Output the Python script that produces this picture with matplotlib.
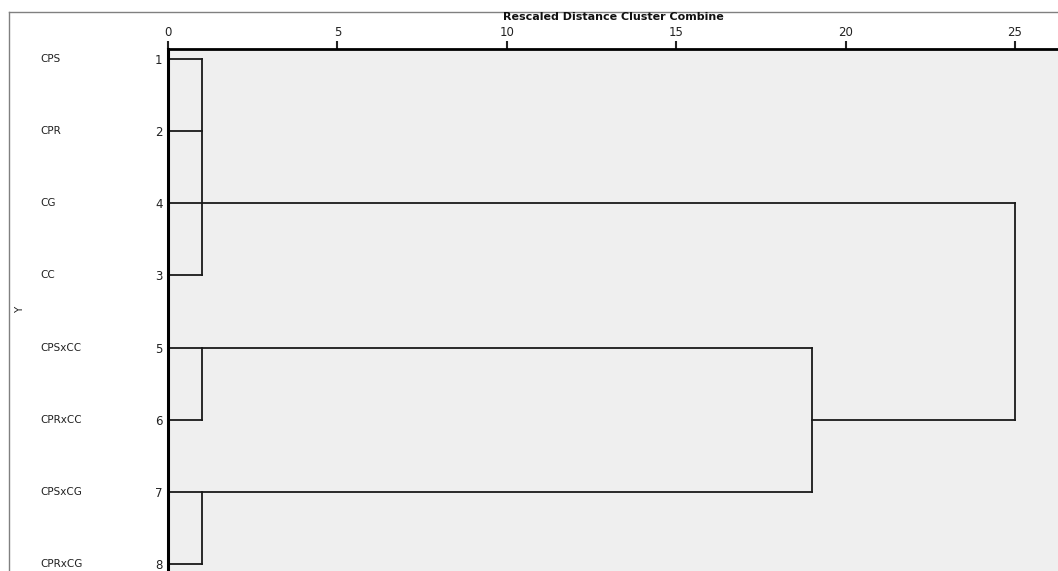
import matplotlib.pyplot as plt
from matplotlib.lines import Line2D
from matplotlib.transforms import blended_transform_factory

# leaves in display order (top to bottom)
leaf_names = ['CPS', 'CPR', 'CG', 'CC', 'CPSxCC', 'CPRxCC', 'CPSxCG', 'CPRxCG']
case_nums = [1, 2, 4, 3, 5, 6, 7, 8]

# merges: children (leaf index or 'M<k>'), rescaled distance, row where the joined line leaves
merge_children = [[0, 1, 2, 3], [4, 5], [6, 7], ['M1', 'M2'], ['M0', 'M3']]
merge_dist = [1, 1, 1, 19, 25]
merge_out_row = [3, 5, 7, 6, None]

x_ticks = [0, 5, 10, 15, 20, 25]

W, H = 1058, 571
fig = plt.figure(figsize=(W / 100, H / 100), dpi=100)
fig.patch.set_facecolor('white')

ax = fig.add_axes([168 / W, 0, 1 - 168 / W, 1 - 49 / H])
ax.set_facecolor('#efefef')
ax.set_xlim(0, 26.27)
ax.set_ylim(8.097, 0.861)

rows = list(range(1, len(leaf_names) + 1))

# position (x, y) of each node's outgoing line
node_pos = {i: (0, rows[i]) for i in range(len(leaf_names))}
line_kw = dict(color='#1a1a1a', lw=1.3, solid_capstyle='projecting')
for k, (kids, d) in enumerate(zip(merge_children, merge_dist)):
    ys = []
    for c in kids:
        key = c if isinstance(c, int) else int(c[1:]) + 100
        cx, cy = node_pos[key]
        ax.plot([cx, d], [cy, cy], **line_kw)
        ys.append(cy)
    ax.plot([d, d], [min(ys), max(ys)], **line_kw)
    if merge_out_row[k] is not None:
        node_pos[100 + k] = (d, merge_out_row[k])

# axes styling
for s in ['right', 'bottom']:
    ax.spines[s].set_visible(False)
ax.spines['top'].set_linewidth(2)
ax.spines['left'].set_linewidth(2.2)
ax.xaxis.tick_top()
ax.set_xticks(x_ticks)
ax.tick_params(axis='x', direction='out', length=6, width=1.5, labelsize=8.5,
               pad=1, colors='#222222')
ax.set_yticks(rows)
ax.set_yticklabels(case_nums)
ax.tick_params(axis='y', length=0, labelsize=8.5, pad=4, colors='#222222')

trans = blended_transform_factory(fig.transFigure, ax.transData)
for name, r in zip(leaf_names, rows):
    ax.text(40 / W, r, name, transform=trans, ha='left', va='center',
            fontsize=7.5, color='#222222', clip_on=False)

fig.text(20 / W, 1 - 310 / H, 'Y', rotation=90, ha='center', va='center',
         fontsize=7.5, color='#222222')
fig.text(613 / W, 1 - 17 / H, 'Rescaled Distance Cluster Combine', ha='center',
         va='center', fontsize=8, fontweight='bold', color='#111111')

# outer frame
fig.add_artist(Line2D([9 / W, 1], [1 - 12 / H, 1 - 12 / H], color='#808080', lw=1))
fig.add_artist(Line2D([9 / W, 9 / W], [0, 1 - 12 / H], color='#808080', lw=1))

fig.savefig('out.png', dpi=100)
